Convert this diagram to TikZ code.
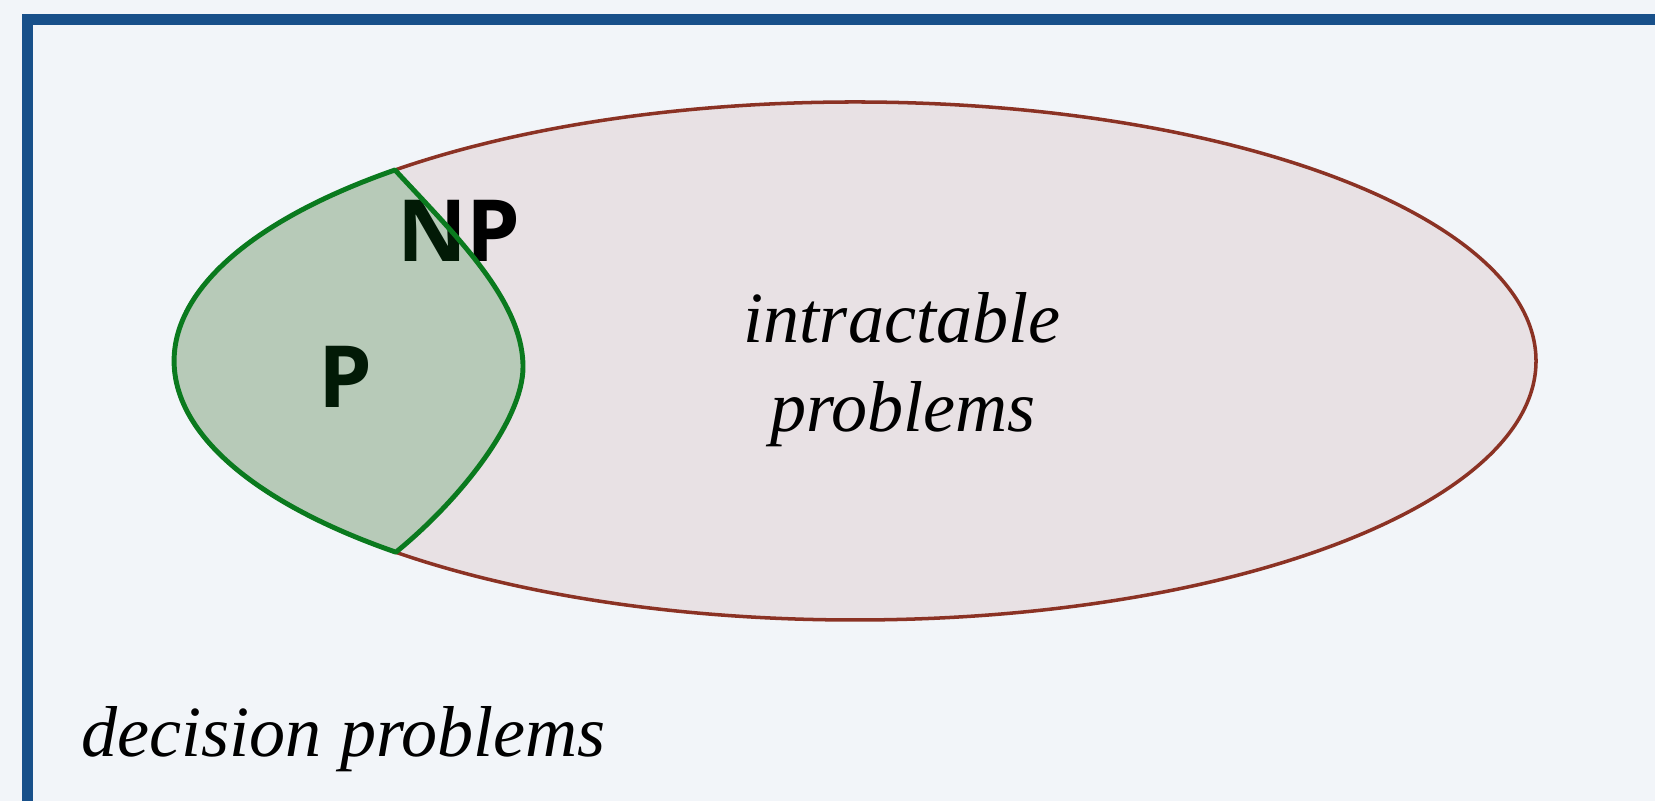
\documentclass[tikz,border=0pt]{standalone}
\usepackage{fontspec}
\setmainfont{Liberation Serif}
\newfontfamily\setfont{Open Sans}
\definecolor{bgcol}{HTML}{F2F5F9}
\definecolor{framecol}{HTML}{18508A}
\definecolor{npline}{HTML}{8B3224}
\definecolor{npfill}{HTML}{E8E1E4}
\definecolor{pgreen}{HTML}{0A7A1E}
\begin{document}
\begin{tikzpicture}[x=0.01cm,y=0.01cm,line join=round,line cap=round,
	setlabel/.style={font=\setfont\bfseries\fontsize{24.4}{28}\selectfont,inner sep=0pt},
	wordlabel/.style={font=\itshape\fontsize{20.5}{24}\selectfont,inner sep=0pt,anchor=base}]
	\useasboundingbox (0,0) rectangle (1655,801);
	\clip (0,0) rectangle (1655,801);
	\fill[bgcol] (0,0) rectangle (1655,801);
	\draw[framecol,line width=0.11cm,line cap=butt,line join=miter] (27.5,781) rectangle (1760,-100);
	% NP
	\filldraw[fill=npfill,draw=npline,line width=1pt] (855,440) ellipse [x radius=681,y radius=259];
	\coordinate (ptop) at (395,631);
	\coordinate (pbot) at (399,249);
	\node[setlabel] (np) at (459,570) {NP};
	\node[setlabel] (p) at (345,424) {P};
	% P
	\filldraw[draw=pgreen,fill=pgreen,fill opacity=0.22,line width=1.4pt] (ptop) %
		arc[start angle=132.5,end angle=227.6,x radius=681,y radius=259] %
		.. controls (460,301) and (523,381) .. (523,434) %
		.. controls (523,501) and (455,566) .. (ptop) -- cycle;
	\node[wordlabel] (intr) at (902,458) {intractable};
	\node[wordlabel] (prob) at (903,369) {problems};
	\node[wordlabel,anchor=base west] (dec) at (81,44) {decision problems};
\end{tikzpicture}
\end{document}
